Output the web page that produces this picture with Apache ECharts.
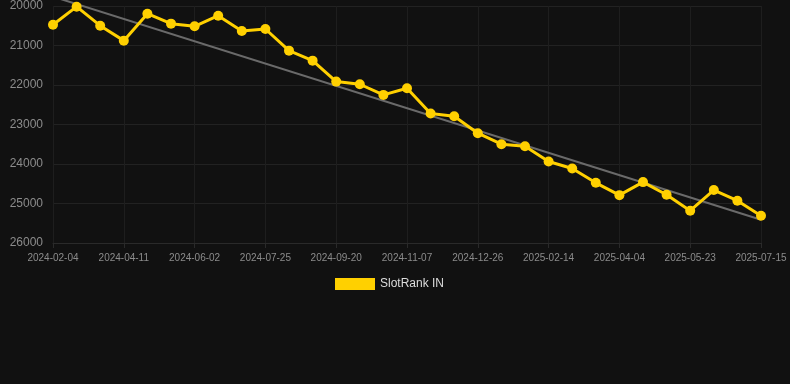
<!DOCTYPE html>
<html>
<head>
<meta charset="utf-8">
<script src="https://cdn.jsdelivr.net/npm/echarts@6/dist/echarts.min.js"></script>
<style>
html, body { margin: 0; padding: 0; background: #111111; }
#rankChart { width: 790px; height: 384px; }
</style>
</head>
<body>
<div id="rankChart"></div>
<script>
// categories (every 3rd one is labelled on the axis)
var dates = [
	'2024-02-04', '2024-02-26', '2024-03-19', '2024-04-11', '2024-04-28', '2024-05-15',
	'2024-06-02', '2024-06-19', '2024-07-07', '2024-07-25', '2024-08-13', '2024-09-01',
	'2024-09-20', '2024-10-06', '2024-10-22', '2024-11-07', '2024-11-23', '2024-12-09',
	'2024-12-26', '2025-01-11', '2025-01-28', '2025-02-14', '2025-03-02', '2025-03-18',
	'2025-04-04', '2025-04-20', '2025-05-06', '2025-05-23', '2025-06-08', '2025-06-24',
	'2025-07-15'
];
// rank values
var rankValues = [
	20473, 20017, 20498, 20877, 20194, 20447, 20514, 20245, 20632, 20582,
	21130, 21383, 21914, 21981, 22250, 22081, 22723, 22790, 23220, 23499,
	23550, 23937, 24114, 24476, 24788, 24458, 24779, 25183, 24660, 24930,
	25310
];
// trend line end values
var trendStart = 19763;
var trendEnd = 25411;
var yTicks = { min: 20000, max: 26000, interval: 1000 };

var chart = echarts.init(document.getElementById('rankChart'));

var option = {
	backgroundColor: '#111111',
	animation: false,
	grid: {
		left: 53,
		right: 29,
		top: 6,
		bottom: 141
	},
	legend: {
		data: ['SlotRank IN'],
		top: 273,
		left: 330,
		itemWidth: 40,
		itemHeight: 12,
		itemGap: 10,
		icon: 'rect',
		textStyle: { color: '#dddddd', fontSize: 12, fontFamily: 'Liberation Sans, Arial, sans-serif' }
	},
	xAxis: {
		type: 'category',
		boundaryGap: false,
		data: dates,
		axisLine: { lineStyle: { color: '#2a2a2a' } },
		axisTick: { show: true, interval: 2, lineStyle: { color: '#2a2a2a' } },
		axisLabel: {
			interval: 2,
			color: '#8c8c8c',
			fontSize: 10,
			margin: 10,
			fontFamily: 'Liberation Sans, Arial, sans-serif'
		},
		splitLine: { show: true, interval: 2, lineStyle: { color: '#1e1e1e' } }
	},
	yAxis: {
		type: 'value',
		inverse: true,
		min: yTicks.min,
		max: yTicks.max,
		interval: yTicks.interval,
		axisLine: { show: false },
		axisTick: { show: false },
		axisLabel: {
			color: '#8c8c8c',
			fontSize: 12,
			margin: 10,
			formatter: function (v) { return String(v); },
			fontFamily: 'Liberation Sans, Arial, sans-serif'
		},
		splitLine: { lineStyle: { color: '#222222' } }
	},
	series: [{
		name: 'Trend',
		type: 'line',
		data: [[0, trendStart], [dates.length - 1, trendEnd]],
		symbol: 'none',
		clip: false,
		silent: true,
		lineStyle: { color: '#6a6a6a', width: 2 },
		z: 1
	}, {
		name: 'SlotRank IN',
		type: 'line',
		data: rankValues,
		symbol: 'circle',
		symbolSize: 10,
		itemStyle: { color: '#ffd000' },
		lineStyle: { color: '#ffd000', width: 3 },
		z: 3
	}]
};
chart.setOption(option);
</script>
</body>
</html>
